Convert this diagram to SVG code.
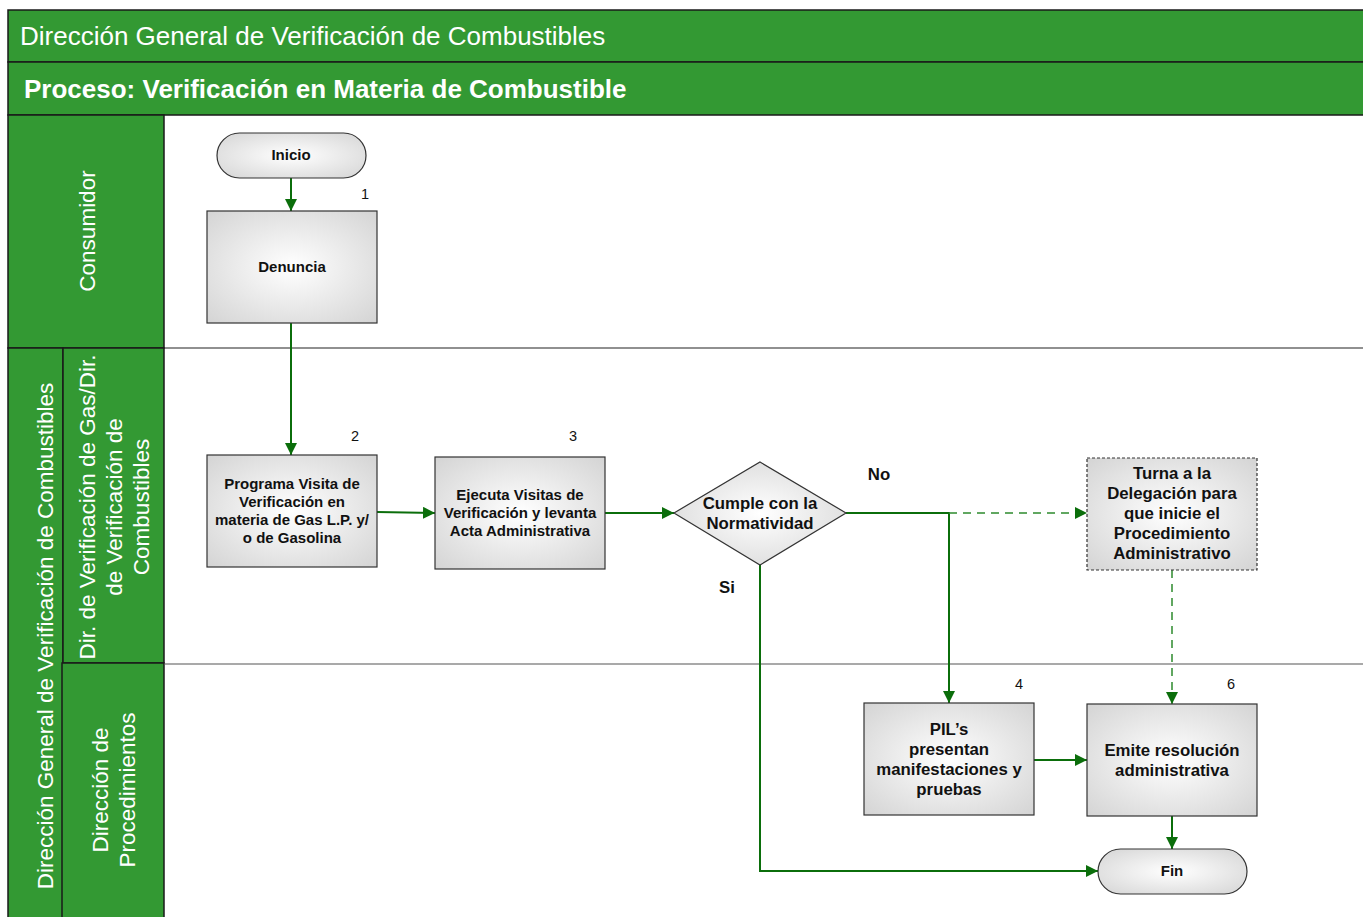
<svg xmlns="http://www.w3.org/2000/svg" width="1363" height="917" viewBox="0 0 1363 917">
<defs>
<radialGradient id="g" cx="50%" cy="50%" r="70%">
<stop offset="0" stop-color="#ffffff"/>
<stop offset="1" stop-color="#d4d4d4"/>
</radialGradient>
<marker id="ah" markerWidth="12" markerHeight="12" refX="12" refY="6" orient="auto" markerUnits="userSpaceOnUse">
<path d="M0,0 L12,6 L0,12 Z" fill="#0b6e0b"/>
</marker>
<style>
.band{fill:#339933;stroke:#1a1a1a;stroke-width:1.5}
.lanel{fill:#ffffff;font-family:"Liberation Sans",Arial,sans-serif;font-size:22.5px;text-anchor:middle}
.node{fill:url(#g);stroke:#333333;stroke-width:1.2}
.dash{stroke-dasharray:3,2}
.t{font-family:"Liberation Sans",Arial,sans-serif;font-weight:bold;fill:#111;text-anchor:middle}
.s{font-size:15px}
.m{font-size:16.8px}
.num{font-family:"Liberation Sans",Arial,sans-serif;font-size:14.5px;fill:#111;text-anchor:middle}
.c{fill:none;stroke:#0b6e0b;stroke-width:2}
.cd{fill:none;stroke:#2e8b2e;stroke-width:1.5;stroke-dasharray:8,6}
</style>
</defs>
<rect width="1363" height="917" fill="#ffffff"/>
<g id="lanes">
<rect class="band" x="8" y="10" width="1360" height="52"/>
<text x="20" y="45" fill="#fff" font-family="Liberation Sans,Arial,sans-serif" font-size="26">Dirección General de Verificación de Combustibles</text>
<rect class="band" x="8" y="62" width="1360" height="53"/>
<text x="24" y="98" fill="#fff" font-family="Liberation Sans,Arial,sans-serif" font-size="26" font-weight="bold">Proceso: Verificación en Materia de Combustible</text>
<rect class="band" x="8" y="115" width="156" height="233"/>
<text class="lanel" transform="translate(87,231) rotate(-90)" dy="8">Consumidor</text>
<rect class="band" x="8" y="348" width="55" height="575"/>
<text class="lanel" transform="translate(45,636) rotate(-90)" dy="8">Dirección General de Verificación de Combustibles</text>
<rect class="band" x="63" y="348" width="101" height="315"/>
<text class="lanel" transform="translate(87,507) rotate(-90)" dy="8">Dir. de Verificación de Gas/Dir.</text>
<text class="lanel" transform="translate(114,507) rotate(-90)" dy="8">de Verificación de</text>
<text class="lanel" transform="translate(141,507) rotate(-90)" dy="8">Combustibles</text>
<rect class="band" x="62" y="663" width="102" height="260"/>
<text class="lanel" transform="translate(100,790) rotate(-90)" dy="8">Dirección de</text>
<text class="lanel" transform="translate(127,790) rotate(-90)" dy="8">Procedimientos</text>
<line x1="164" y1="348" x2="1363" y2="348" stroke="#222" stroke-width="1.2"/>
<line x1="164" y1="664" x2="1363" y2="664" stroke="#555" stroke-width="1.2"/>
</g>
<g id="connectors">
<path class="c" d="M291,178 L291,211" marker-end="url(#ah)"/>
<path class="c" d="M291,323 L291,455" marker-end="url(#ah)"/>
<path class="c" d="M377,512 L435,513" marker-end="url(#ah)"/>
<path class="c" d="M605,513 L674,513" marker-end="url(#ah)"/>
<path class="c" d="M846,513 L949,513 L949,703" marker-end="url(#ah)"/>
<path class="cd" d="M949,513 L1087,513" marker-end="url(#ah)"/>
<path class="cd" d="M1172,570 L1172,704" marker-end="url(#ah)"/>
<path class="c" d="M1034,760 L1087,760" marker-end="url(#ah)"/>
<path class="c" d="M1172,816 L1172,849" marker-end="url(#ah)"/>
<path class="c" d="M760,565 L760,871 L1098,871" marker-end="url(#ah)"/>
<text class="t m" x="879" y="480">No</text>
<text class="t m" x="727" y="593">Si</text>
</g>
<g id="inicio">
<rect class="node" x="217" y="133" width="149" height="45" rx="22.5"/>
<text class="t s" x="291" y="160">Inicio</text>
</g>
<g id="denuncia">
<rect class="node" x="207" y="211" width="170" height="112"/>
<text class="t s" x="292" y="272">Denuncia</text>
<text class="num" x="365" y="199">1</text>
</g>
<g id="programa">
<rect class="node" x="207" y="455" width="170" height="112"/>
<text class="t s" x="292" y="489">Programa Visita de</text>
<text class="t s" x="292" y="507">Verificación en</text>
<text class="t s" x="292" y="525">materia de Gas L.P. y/</text>
<text class="t s" x="292" y="543">o de Gasolina</text>
<text class="num" x="355" y="441">2</text>
</g>
<g id="ejecuta">
<rect class="node" x="435" y="457" width="170" height="112"/>
<text class="t s" x="520" y="500">Ejecuta Visitas de</text>
<text class="t s" x="520" y="518">Verificación y levanta</text>
<text class="t s" x="520" y="536">Acta Administrativa</text>
<text class="num" x="573" y="441">3</text>
</g>
<g id="decision">
<polygon class="node" points="760,462 846,513 760,565 674,513"/>
<text class="t m" x="760" y="509">Cumple con la</text>
<text class="t m" x="760" y="529">Normatividad</text>
</g>
<g id="turna">
<rect class="node dash" x="1087" y="458" width="170" height="112"/>
<text class="t m" x="1172" y="479">Turna a la</text>
<text class="t m" x="1172" y="499">Delegación para</text>
<text class="t m" x="1172" y="519">que inicie el</text>
<text class="t m" x="1172" y="539">Procedimiento</text>
<text class="t m" x="1172" y="559">Administrativo</text>
</g>
<g id="pils">
<rect class="node" x="864" y="703" width="170" height="112"/>
<text class="t m" x="949" y="735">PIL’s</text>
<text class="t m" x="949" y="755">presentan</text>
<text class="t m" x="949" y="775">manifestaciones y</text>
<text class="t m" x="949" y="795">pruebas</text>
<text class="num" x="1019" y="689">4</text>
</g>
<g id="emite">
<rect class="node" x="1087" y="704" width="170" height="112"/>
<text class="t m" x="1172" y="756">Emite resolución</text>
<text class="t m" x="1172" y="776">administrativa</text>
<text class="num" x="1231" y="689">6</text>
</g>
<g id="fin">
<rect class="node" x="1098" y="849" width="149" height="45" rx="22.5"/>
<text class="t s" x="1172" y="876">Fin</text>
</g>
</svg>
